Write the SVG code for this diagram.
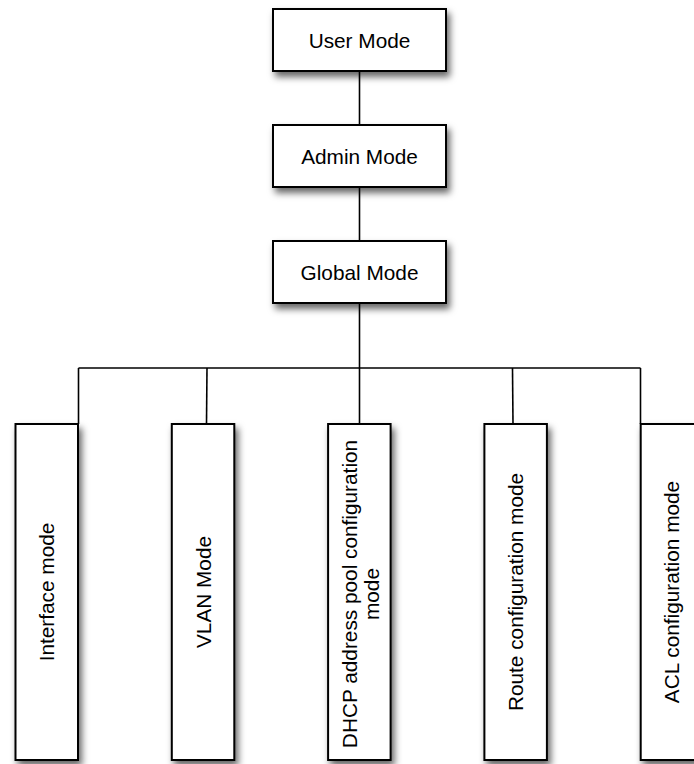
<svg xmlns="http://www.w3.org/2000/svg" width="694" height="764" viewBox="0 0 694 764">
<defs>
<filter id="sh" x="-20%" y="-20%" width="150%" height="150%">
<feDropShadow dx="3" dy="5" stdDeviation="3.5" flood-color="#000" flood-opacity="0.6"/>
</filter>
</defs>
<style>
.box{fill:#fff;stroke:#000;stroke-width:2;filter:url(#sh)}
.lbl{font-family:"Liberation Sans",Arial,Helvetica,sans-serif;font-size:20.8px;fill:#000;text-anchor:middle;dominant-baseline:central}
.con{fill:none;stroke:#000;stroke-width:1.6}
</style>
<rect width="694" height="764" fill="#fff"/>
<g id="connectors">
<line class="con" x1="359.5" y1="71" x2="359.5" y2="125"/>
<line class="con" x1="359.5" y1="187" x2="359.5" y2="241"/>
<line class="con" x1="359.5" y1="303" x2="359.5" y2="424"/>
<line class="con" x1="78.5" y1="368" x2="640.5" y2="368"/>
<line class="con" x1="78.5" y1="368" x2="78.5" y2="424"/>
<line class="con" x1="207" y1="368" x2="206.5" y2="424"/>
<line class="con" x1="512.5" y1="368" x2="513" y2="424"/>
<line class="con" x1="640.5" y1="368" x2="640.5" y2="424"/>
</g>
<g id="user-mode">
<rect class="box" x="273" y="9" width="173" height="62"/>
<text class="lbl" x="359.5" y="40">User Mode</text>
</g>
<g id="admin-mode">
<rect class="box" x="273" y="125" width="173" height="62"/>
<text class="lbl" x="359.5" y="156">Admin Mode</text>
</g>
<g id="global-mode">
<rect class="box" x="273" y="241" width="173" height="62"/>
<text class="lbl" x="359.5" y="272">Global Mode</text>
</g>
<g id="interface-mode">
<rect class="box" x="15.5" y="424" width="62.5" height="336"/>
<text class="lbl" transform="translate(46.75 592) rotate(-90)">Interface mode</text>
</g>
<g id="vlan-mode">
<rect class="box" x="171.8" y="424" width="62.5" height="336"/>
<text class="lbl" transform="translate(203.05 592) rotate(-90)">VLAN Mode</text>
</g>
<g id="dhcp-mode">
<rect class="box" x="328.1" y="424" width="62.5" height="336"/>
<text class="lbl" transform="translate(359.35 594) rotate(-90)"><tspan x="0" y="-10">DHCP address pool configuration</tspan><tspan x="0" y="12">mode</tspan></text>
</g>
<g id="route-mode">
<rect class="box" x="484.4" y="424" width="62.5" height="336"/>
<text class="lbl" transform="translate(515.65 592) rotate(-90)">Route configuration mode</text>
</g>
<g id="acl-mode">
<rect class="box" x="640.7" y="424" width="62.5" height="336"/>
<text class="lbl" transform="translate(671.95 592) rotate(-90)">ACL configuration mode</text>
</g>
</svg>
